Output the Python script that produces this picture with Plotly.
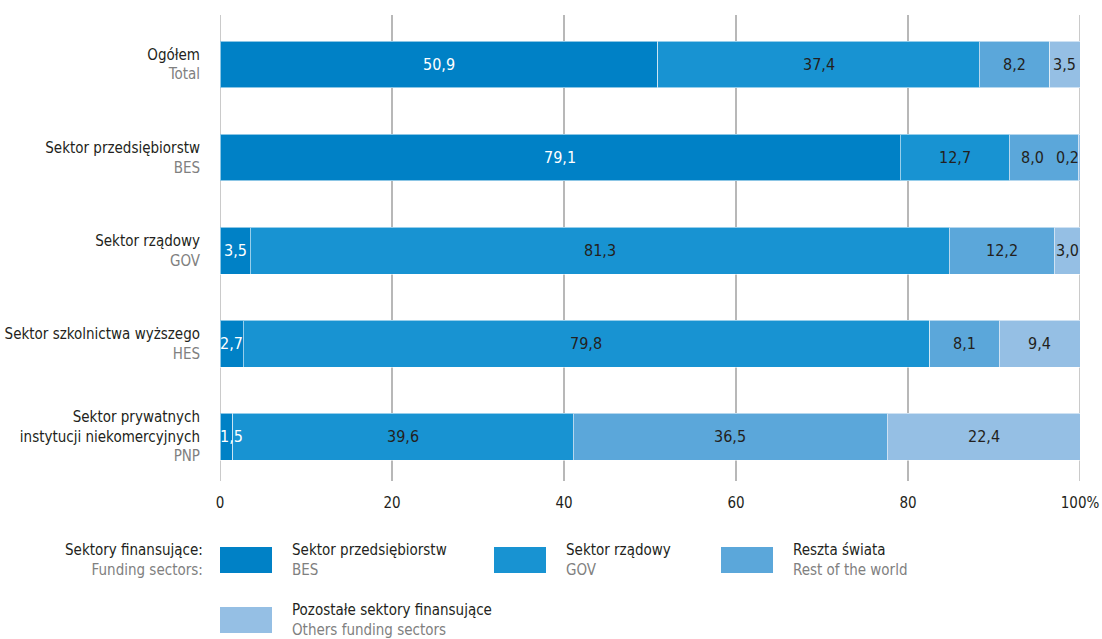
import plotly.graph_objects as go

# Sectors performing R&D (rows, top to bottom)
rows_pl = ["Ogółem", "Sektor przedsiębiorstw", "Sektor rządowy",
           "Sektor szkolnictwa wyższego",
           "Sektor prywatnych<br>instytucji niekomercyjnych"]
rows_en = ["Total", "BES", "GOV", "HES", "PNP"]

# Funding sectors (stack order, left to right)
series_pl = ["Sektor przedsiębiorstw", "Sektor rządowy", "Reszta świata",
             "Pozostałe sektory finansujące"]
series_en = ["BES", "GOV", "Rest of the world", "Others funding sectors"]

# Shares of funding, %
bes_share = [50.9, 79.1, 3.5, 2.7, 1.5]
gov_share = [37.4, 12.7, 81.3, 79.8, 39.6]
row_share = [8.2, 8.0, 12.2, 8.1, 36.5]
oth_share = [3.5, 0.2, 3.0, 9.4, 22.4]
shares = [bes_share, gov_share, row_share, oth_share]

x_ticks = [0, 20, 40, 60, 80, 100]
x_tick_text = ["0", "20", "40", "60", "80", "100%"]

colors = ["#0081c6", "#1893d2", "#5ba7da", "#95bfe4"]
label_colors = ["#ffffff", "#231f20", "#231f20", "#231f20"]
DARK = "#231f20"
GREY = "#808080"
GRID = "#b8b8b8"
FONT = "DejaVu Sans Condensed, Liberation Sans Narrow, Arial Narrow, sans-serif"

W, H = 1102, 639
L, R, T, B = 220, 1080, 15, 481


def px_x(px):
    return (px - L) / (R - L)


def px_y(py):
    return (B - py) / (B - T)


def fmt(v):
    return f"{v:.1f}".replace(".", ",")


row_labels = [f"{pl}<br><span style='color:{GREY}'>{en}</span>"
              for pl, en in zip(rows_pl, rows_en)]

fig = go.Figure()
for name, vals, col in zip(series_pl, shares, colors):
    fig.add_trace(go.Bar(
        y=row_labels, x=vals, orientation="h", name=name,
        marker=dict(color=col, line=dict(color="rgba(255,255,255,0.55)", width=1)),
        width=0.505, showlegend=False, hoverinfo="skip",
    ))

# Value labels centred on each segment, kept clear of the plot edges
# and of each other
for i in range(len(rows_pl)):
    start = 0.0
    centres = []
    for vals in shares:
        v = vals[i]
        centres.append(min(max(start + v / 2, 1.3), 98.5))
        start += v
    for k in range(len(centres) - 2, -1, -1):
        centres[k] = min(centres[k], centres[k + 1] - 4.0)
    for vals, tcol, cx in zip(shares, label_colors, centres):
        fig.add_annotation(
            x=cx, y=row_labels[i], xref="x", yref="y", showarrow=False,
            text=fmt(vals[i]), xanchor="center", yanchor="middle",
            font=dict(family=FONT, size=16, color=tcol),
        )

# Grid lines at the range edges (0 and 100%)
for xv in (x_ticks[0], x_ticks[-1]):
    fig.add_shape(type="line", xref="x", yref="paper", x0=xv, x1=xv,
                  y0=0, y1=1, line=dict(color=GRID, width=1.5), layer="below")

fig.update_layout(
    barmode="stack",
    width=W, height=H,
    margin=dict(l=L, r=W - R, t=T, b=H - B, autoexpand=False),
    paper_bgcolor="white", plot_bgcolor="white",
    font=dict(family=FONT, size=15, color=DARK),
    xaxis=dict(range=[0, 100], tickvals=x_ticks, ticktext=x_tick_text,
               showgrid=True, gridcolor=GRID, gridwidth=1.5,
               zeroline=False, showline=False, ticks="outside",
               ticklen=8, tickcolor="rgba(0,0,0,0)", automargin=False,
               tickfont=dict(family=FONT, size=15, color=DARK)),
    yaxis=dict(range=[4.478, -0.532], showgrid=False, zeroline=False,
               showline=False, ticks="outside", ticklen=16,
               tickcolor="rgba(0,0,0,0)", automargin=False,
               tickfont=dict(family=FONT, size=15, color=DARK)),
)

# Legend: title, swatches and two-line labels
fig.add_annotation(
    x=px_x(205), y=px_y(560), xref="paper", yref="paper",
    xanchor="right", yanchor="middle", align="right", showarrow=False,
    text=f"Sektory finansujące:<br><span style='color:{GREY}'>Funding sectors:</span>",
    font=dict(family=FONT, size=15, color=DARK),
)
swatch_pos = [(220, 547), (494, 547), (721, 547), (220, 607)]
for (sx, sy), col, pl, en in zip(swatch_pos, colors, series_pl, series_en):
    fig.add_shape(type="rect", xref="paper", yref="paper",
                  x0=px_x(sx), x1=px_x(sx + 52), y0=px_y(sy), y1=px_y(sy + 26),
                  fillcolor=col, line=dict(width=0))
    fig.add_annotation(
        x=px_x(sx + 70), y=px_y(sy + 13), xref="paper", yref="paper",
        xanchor="left", yanchor="middle", align="left", showarrow=False,
        text=f"{pl}<br><span style='color:{GREY}'>{en}</span>",
        font=dict(family=FONT, size=15, color=DARK),
    )

fig.write_html("out.html")
